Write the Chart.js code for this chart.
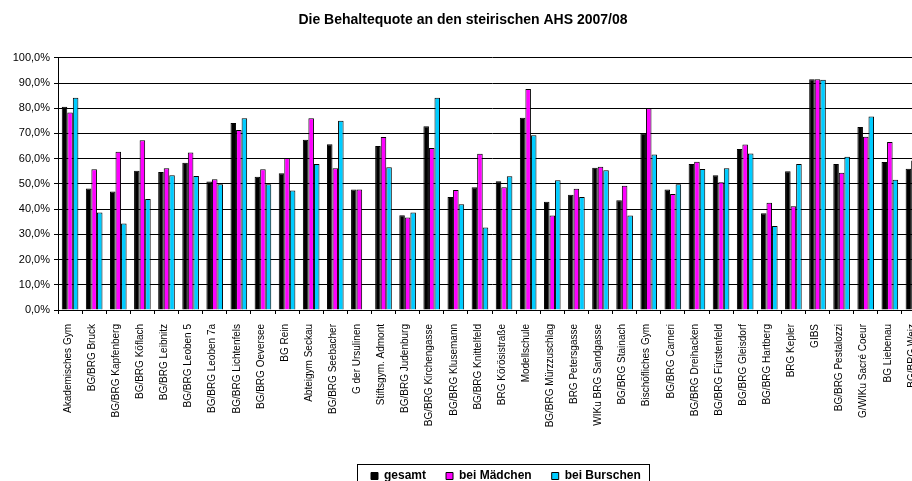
<!DOCTYPE html>
<html>
<head>
<meta charset="utf-8">
<title>Die Behaltequote an den steirischen AHS 2007/08</title>
<script src="https://cdn.jsdelivr.net/npm/chart.js@4/dist/chart.umd.min.js"></script>
<style>
  html, body { margin: 0; padding: 0; background: #fff; overflow: hidden; }
  #wrap { width: 912px; height: 481px; overflow: hidden; }
  canvas { display: block; }
</style>
</head>
<body>
<div id="wrap">
  <!-- the original chart runs past the right edge; the canvas is wider and gets cut off -->
  <canvas id="chart" width="940" height="481"></canvas>
</div>
<script>
const schools = [
  "Akademisches Gym", "BG/BRG Bruck", "BG/BRG Kapfenberg", "BG/BRG Köflach",
  "BG/BRG Leibnitz", "BG/BRG Leoben 5", "BG/BRG Leoben 7a", "BG/BRG Lichtenfels",
  "BG/BRG Oeversee", "BG Rein", "Abteigym Seckau", "BG/BRG Seebacher",
  "G der Ursulinen", "Stiftsgym. Admont", "BG/BRG Judenburg", "BG/BRG Kirchengasse",
  "BG/BRG Klusemann", "BG/BRG Knittelfeld", "BRG Körösistraße", "Modellschule",
  "BG/BRG Mürzzuschlag", "BRG Petersgasse", "WIKu BRG Sandgasse", "BG/BRG Stainach",
  "Bischöfliches Gym", "BG/BRG Carneri", "BG/BRG Dreihacken", "BG/BRG Fürstenfeld",
  "BG/BRG Gleisdorf", "BG/BRG Hartberg", "BRG Kepler", "GIBS",
  "BG/BRG Pestalozzi", "G/WIKu Sacré Coeur", "BG Liebenau", "BG/BRG Weiz"
];

// Behaltequote in %
const gesamt = [80.6, 48.2, 47.0, 55.2, 54.7, 58.4, 51.0, 74.1, 52.8, 54.2, 67.5, 65.7,
  47.8, 65.0, 37.6, 72.9, 44.8, 48.7, 51.1, 76.2, 42.9, 45.7, 56.4, 43.5,
  70.1, 47.8, 57.9, 53.4, 63.8, 38.4, 55.0, 91.5, 57.9, 72.6, 58.7, 56.0];
const beiMaedchen = [78.3, 55.8, 62.7, 67.3, 56.2, 62.5, 51.8, 71.4, 55.8, 60.3, 76.0, 56.2,
  47.8, 68.6, 36.7, 64.2, 47.6, 62.0, 48.7, 87.6, 37.5, 48.1, 56.8, 49.3,
  80.0, 46.0, 58.8, 50.7, 65.6, 42.5, 41.1, 91.5, 54.4, 68.7, 66.6, 59.3];
const beiBurschen = [84.2, 38.7, 34.3, 44.0, 53.4, 53.1, 49.9, 76.0, 49.9, 47.4, 57.9, 75.0,
  null, 56.6, 38.7, 84.2, 41.9, 32.7, 53.0, 69.3, 51.4, 44.8, 55.4, 37.5,
  61.7, 49.9, 55.9, 56.2, 62.1, 33.3, 57.9, 91.3, 60.8, 76.7, 51.6, 52.0];

const seriesNames = ["gesamt", "bei Mädchen", "bei Burschen"];
const seriesColors = ["#000000", "#FF00FF", "#00CCFF"];

const font = "'Liberation Sans', Arial, sans-serif";

// legend sits left-aligned under the plot in a thin frame, like the Excel original
const legendFrame = {
  id: "legendFrame",
  afterLayout(chart) {
    const lg = chart.legend;
    lg.left = 351;
    lg.right = 940;
    lg.top = 450;
    lg.bottom = 492;
  },
  afterDraw(chart) {
    const ctx = chart.ctx;
    ctx.save();
    ctx.strokeStyle = "#000";
    ctx.lineWidth = 1;
    ctx.strokeRect(357.5, 464.5, 292, 30);
    ctx.restore();
  }
};

const ctx = document.getElementById("chart").getContext("2d");
new Chart(ctx, {
  type: "bar",
  data: {
    labels: schools,
    datasets: [gesamt, beiMaedchen, beiBurschen].map((values, i) => ({
      label: seriesNames[i],
      data: values,
      backgroundColor: seriesColors[i],
      borderColor: "#000",
      borderWidth: 1,
      categoryPercentage: 0.69,
      barPercentage: 1.0
    }))
  },
  options: {
    responsive: false,
    animation: false,
    layout: { padding: { left: 0, right: 14, top: 0, bottom: 0 } },
    plugins: {
      title: {
        display: true,
        text: "Die Behaltequote an den steirischen AHS 2007/08",
        color: "#000",
        font: { family: font, size: 14, weight: "bold" },
        padding: { top: 12, bottom: 29 }
      },
      legend: {
        position: "bottom",
        align: "start",
        labels: {
          color: "#000",
          boxWidth: 7,
          boxHeight: 7,
          padding: 20,
          font: { family: font, size: 12, weight: "bold" }
        }
      },
      tooltip: { enabled: false }
    },
    scales: {
      x: {
        afterFit: (scale) => { scale.height = 129; },
        grid: {
          offset: true,
          drawOnChartArea: false,
          color: "#000",
          tickLength: 4
        },
        border: { color: "#000" },
        ticks: {
          autoSkip: false,
          minRotation: 90,
          maxRotation: 90,
          padding: 10,
          labelOffset: -2,
          color: "#000",
          font: { family: font, size: 10 }
        }
      },
      y: {
        min: 0,
        max: 100,
        afterFit: (scale) => { scale.width = 58; },
        grid: { color: "#000", tickLength: 4 },
        border: { color: "#000" },
        ticks: {
          stepSize: 10,
          padding: 4,
          color: "#000",
          font: { family: font, size: 11 },
          callback: (v) => v.toFixed(1).replace(".", ",") + "%"
        }
      }
    }
  },
  plugins: [legendFrame]
});
</script>
</body>
</html>
